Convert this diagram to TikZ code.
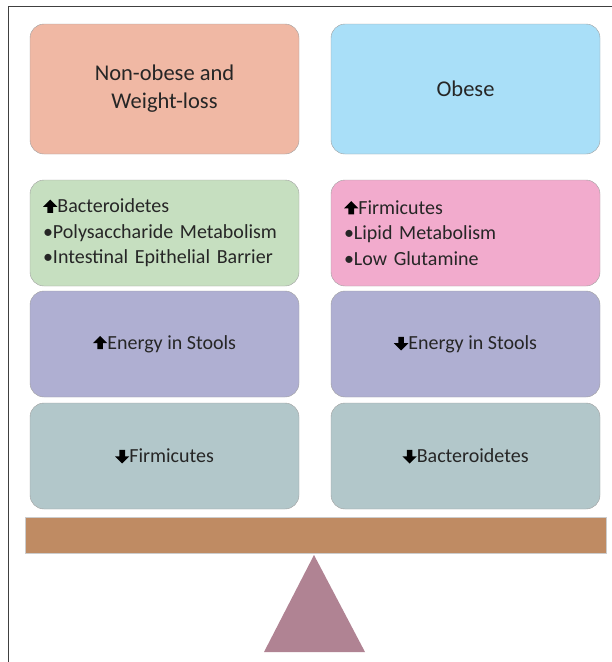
\documentclass[tikz,border=0pt]{standalone}
\usepackage{fontspec}
\setmainfont{Carlito}
\usepackage{tikz}
\usetikzlibrary{positioning}
\definecolor{salmon}{HTML}{F0B8A4}
\definecolor{skyb}{HTML}{A9DFF8}
\definecolor{leaf}{HTML}{C6DFC0}
\definecolor{rose}{HTML}{F2ABCD}
\definecolor{lilac}{HTML}{AFAFD2}
\definecolor{slate}{HTML}{B2C7CA}
\definecolor{wood}{HTML}{BF8B63}
\definecolor{mauve}{HTML}{B08393}
% block arrows used inside the texts
\newcommand{\arrup}{\tikz[baseline=0pt,x=1em,y=1em,sharp corners]\fill[black]
  (0.22,0)--(0.50,0)--(0.50,0.30)--(0.72,0.30)--(0.36,0.66)--(0.00,0.30)--(0.22,0.30)--cycle;}
\newcommand{\arrdn}{\tikz[baseline=0pt,x=1em,y=1em,sharp corners]\fill[black]
  (0.22,0.62)--(0.50,0.62)--(0.50,0.30)--(0.72,0.30)--(0.36,-0.06)--(0.00,0.30)--(0.22,0.30)--cycle;}
\tikzset{
  grp/.style={draw=gray!75, rounded corners=14pt, minimum width=269pt, text=black!85},
  head/.style={grp, minimum height=130pt, align=center, font=\fontsize{22.5}{28}\selectfont},
  cbox/.style={grp, minimum height=106pt, align=center, font=\fontsize{20}{25}\selectfont},
  lbox/.style={grp, minimum height=106pt, text width=243pt, align=left, font=\fontsize{20}{25.5}\selectfont},
}
\begin{document}
\begin{tikzpicture}[x=1pt,y=-1pt]
  \useasboundingbox (0,0) rectangle (612,662);

  % frame
  \draw[line width=1.3pt, black!75] (8.5,662)--(8.5,6.5)--(612,6.5);

  %% === groups ===
  \node[head, fill=salmon] (nob) at (164.5,89) {Non-obese and\\Weight-loss};
  \node[head, fill=skyb] (ob) at (465.5,89) {Obese};

  % bacteria
  \node[lbox, fill=leaf] (bact) at (164.5,233)
    {\arrup Bacteroidetes\\\textbullet Polysaccharide Metabolism\\\textbullet Intestinal Epithelial Barrier};
  \node[lbox, fill=rose] (firm) at (465.5,233)
    {\arrup Firmicutes\\\textbullet Lipid Metabolism\\\textbullet Low Glutamine};

  % energy
  \node[cbox, fill=lilac] (eup) at (164.5,344) {\arrup Energy in Stools};
  \node[cbox, fill=lilac] (edn) at (465.5,344) {\arrdn Energy in Stools};

  % decrease
  \node[cbox, fill=slate] (fdn) at (164.5,456) {\arrdn Firmicutes};
  \node[cbox, fill=slate] (bdn) at (465.5,456) {\arrdn Bacteroidetes};

  %% === balance ===
  \fill[wood, draw=gray!40] (25,517) rectangle (606,553);
  \coordinate (top) at (314,555);
  \fill[mauve] (top)--(365,652)--(264,652)--cycle;
\end{tikzpicture}
\end{document}
